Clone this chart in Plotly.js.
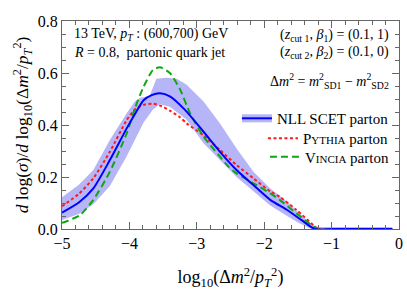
<!DOCTYPE html>
<html>
<head>
<meta charset="utf-8">
<script src="https://cdn.plot.ly/plotly-3.0.1.min.js"></script>
<style>html,body{margin:0;padding:0;background:#fff;}#plot{width:407px;height:292px;}</style>
</head>
<body>
<div id="plot"></div>
<script>
// NLL SCET parton (central curve)
var nllX = [-5, -4.75, -4.535, -4.29, -4.04, -3.9, -3.79, -3.67, -3.546, -3.40, -3.175, -2.90, -2.656, -2.41, -2.16, -1.91, -1.66, -1.45, -1.25, -1.0, -0.5, -0.1];
var nllY = [0.063, 0.102, 0.156, 0.265, 0.387, 0.45, 0.495, 0.515, 0.522, 0.51, 0.458, 0.374, 0.297, 0.227, 0.169, 0.112, 0.073, 0.035, 0.0, 0, 0, 0];
// NLL uncertainty band
var bandUpX = [-5, -4.75, -4.535, -4.29, -4.04, -3.92, -3.84, -3.70, -3.60, -3.45, -3.30, -3.15, -2.9, -2.656, -2.41, -2.16, -1.91, -1.66, -1.5, -1.3, -1.2, -0.1];
var bandUpY = [0.122, 0.17, 0.227, 0.342, 0.445, 0.49, 0.505, 0.512, 0.578, 0.582, 0.578, 0.555, 0.49, 0.406, 0.31, 0.22, 0.156, 0.105, 0.065, 0.018, 0.008, 0.008];
var bandLoX = [-5, -4.75, -4.535, -4.29, -4.04, -3.9, -3.79, -3.65, -3.55, -3.4, -3.15, -2.9, -2.656, -2.41, -2.16, -1.91, -1.66, -1.5, -1.3, -1.2, -0.1];
var bandLoY = [0.035, 0.058, 0.095, 0.165, 0.28, 0.35, 0.41, 0.46, 0.48, 0.47, 0.42, 0.33, 0.265, 0.2, 0.145, 0.09, 0.05, 0.025, 0.0, 0, 0];
// Pythia parton
var pyX = [-5, -4.75, -4.535, -4.29, -4.04, -3.91, -3.78, -3.65, -3.52, -3.40, -3.25, -3.15, -2.90, -2.656, -2.41, -2.16, -1.91, -1.77, -1.52, -1.27, -1.2, -0.1];
var pyY = [0.088, 0.135, 0.195, 0.297, 0.419, 0.462, 0.478, 0.482, 0.472, 0.455, 0.43, 0.406, 0.36, 0.304, 0.246, 0.195, 0.144, 0.124, 0.073, 0.015, 0, 0];
// Vincia parton
var viX = [-5, -4.95, -4.73, -4.535, -4.29, -4.04, -3.91, -3.79, -3.65, -3.546, -3.40, -3.25, -3.10, -2.90, -2.80, -2.656, -2.53, -2.41, -2.16, -1.91, -1.77, -1.52, -1.27, -1.2, -0.1];
var viY = [0.024, 0.028, 0.054, 0.112, 0.22, 0.368, 0.47, 0.547, 0.612, 0.622, 0.6, 0.538, 0.445, 0.355, 0.323, 0.278, 0.24, 0.214, 0.176, 0.137, 0.112, 0.06, 0.01, 0, 0];

var xTicks = [-5, -4, -3, -2, -1, 0];
var yTicks = [0.0, 0.2, 0.4, 0.6, 0.8];

var FONT = 'Liberation Serif, Times New Roman, serif';
var bandColor = '#b5b5f7';
var nllName = 'NLL SCET parton';

var traces = [
  {x: bandLoX, y: bandLoY, mode: 'lines', line: {width: 0, color: bandColor}, showlegend: false, hoverinfo: 'skip'},
  {x: bandUpX, y: bandUpY, mode: 'lines', fill: 'tonexty', fillcolor: bandColor, line: {width: 0, color: bandColor}, showlegend: false, hoverinfo: 'skip'},
  {x: [null], y: [null], mode: 'lines', name: nllName, line: {width: 8, color: bandColor}, legend: 'legend', showlegend: true},
  {x: pyX, y: pyY, mode: 'lines', name: 'P<span style="font-size:11px">YTHIA</span> parton', line: {color: '#ff1a1a', width: 2, dash: '3px,2.5px', shape: 'spline', smoothing: 0.6}, legend: 'legend3'},
  {x: viX, y: viY, mode: 'lines', name: 'V<span style="font-size:11px">INCIA</span> parton', line: {color: '#11a611', width: 2, dash: '7px,4px', shape: 'spline', smoothing: 0.6}, legend: 'legend4'},
  {x: nllX, y: nllY, mode: 'lines', name: nllName, line: {color: '#0000ff', width: 2, shape: 'spline', smoothing: 0.6}, legend: 'legend2'}
];

var legBase = {xanchor: 'right', yanchor: 'middle', bgcolor: 'rgba(0,0,0,0)', borderwidth: 0, itemwidth: 30, tracegroupgap: 0};
function leg(y, col) {
  return Object.assign({}, legBase, {x: 0.985, y: y, font: {family: FONT, size: 15, color: col}});
}

var axCommon = {
  showline: true, mirror: 'allticks', linecolor: '#666', linewidth: 1,
  ticks: 'inside', ticklen: 7, tickcolor: '#666', tickwidth: 1,
  showgrid: false, zeroline: false,
  tickfont: {family: FONT, size: 16, color: '#000'}
};

var layout = {
  width: 407, height: 292,
  margin: {l: 62, r: 8, t: 21, b: 63},
  paper_bgcolor: '#fff', plot_bgcolor: '#fff',
  showlegend: true,
  legend: leg(0.531, 'rgba(0,0,0,0)'),
  legend2: leg(0.531, '#000'),
  legend3: leg(0.435, '#000'),
  legend4: leg(0.346, '#000'),
  xaxis: Object.assign({}, axCommon, {
    range: [-5, 0], tickvals: xTicks, ticktext: xTicks.map(function(v){return v < 0 ? '\u2212' + Math.abs(v) : String(v);}),
    minor: {dtick: 0.2, tick0: 0, ticks: 'inside', ticklen: 4, tickcolor: '#666'},
    title: {text: 'log<sub>10</sub>(\u0394<i>m</i><sup>2</sup>/<i>p</i><sub><i>T</i></sub><sup>2</sup>)', font: {family: FONT, size: 18, color: '#000'}, standoff: 19}
  }),
  yaxis: Object.assign({}, axCommon, {
    range: [0, 0.8], tickvals: yTicks, ticktext: yTicks.map(function(v){return v.toFixed(1);}),
    minor: {dtick: 0.05, tick0: 0, ticks: 'inside', ticklen: 4, tickcolor: '#666'},
    title: {text: '<i>d</i> log(<i>\u03c3</i>)/<i>d</i> log<sub>10</sub>(\u0394<i>m</i><sup>2</sup>/<i>p</i><sub><i>T</i></sub><sup>2</sup>)', font: {family: FONT, size: 17.5, color: '#000'}, standoff: 4}
  }),
  annotations: [
    {xref: 'paper', yref: 'paper', x: 0.03, y: 0.933, xanchor: 'left', yanchor: 'middle', showarrow: false,
     text: '13 TeV, <i>p</i><sub><i>T</i></sub> : (600,700) GeV', font: {family: FONT, size: 14, color: '#000'}},
    {xref: 'paper', yref: 'paper', x: 0.03, y: 0.848, xanchor: 'left', yanchor: 'middle', showarrow: false,
     text: '<i>R</i> = 0.8,  partonic quark jet', font: {family: FONT, size: 14, color: '#000'}},
    {xref: 'paper', yref: 'paper', x: 0.975, y: 0.928, xanchor: 'right', yanchor: 'middle', showarrow: false,
     text: '(<i>z</i><sub>cut 1</sub>, <i>\u03b2</i><sub>1</sub>) = (0.1, 1)', font: {family: FONT, size: 14, color: '#000'}},
    {xref: 'paper', yref: 'paper', x: 0.975, y: 0.848, xanchor: 'right', yanchor: 'middle', showarrow: false,
     text: '(<i>z</i><sub>cut 2</sub>, <i>\u03b2</i><sub>2</sub>) = (0.1, 0)', font: {family: FONT, size: 14, color: '#000'}},
    {xref: 'paper', yref: 'paper', x: 0.975, y: 0.71, xanchor: 'right', yanchor: 'middle', showarrow: false,
     text: '\u0394<i>m</i><sup>2</sup> = <i>m</i><sup>2</sup><sub>SD1</sub> \u2212 <i>m</i><sup>2</sup><sub>SD2</sub>', font: {family: FONT, size: 14, color: '#000'}}
  ]
};

Plotly.newPlot('plot', traces, layout, {displayModeBar: false, staticPlot: true});
</script>
</body>
</html>
